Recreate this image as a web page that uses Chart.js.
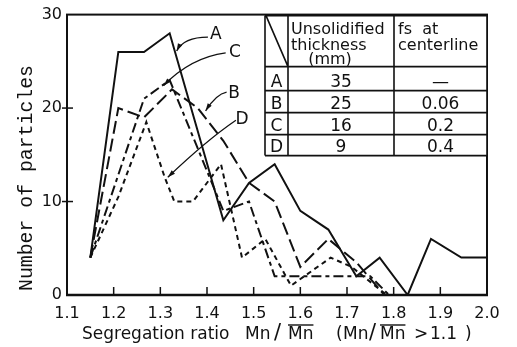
<!DOCTYPE html>
<html>
<head>
<meta charset="utf-8">
<script src="https://cdn.jsdelivr.net/npm/chart.js@4.4.0/dist/chart.umd.min.js"></script>
<style>
  html, body { margin: 0; padding: 0; background: #fff; }
  #wrap { width: 517px; height: 347px; }
</style>
</head>
<body>
<div id="wrap"><canvas id="chart" width="517" height="347"></canvas></div>
<script>
// tick labels
const xTicks = [1.1, 1.2, 1.3, 1.4, 1.5, 1.6, 1.7, 1.8, 1.9, 2.0];
const yTicks = [0, 10, 20, 30];

// segregation ratio (x) and number of particles (y)
const xA = [1.15, 1.21, 1.265, 1.32, 1.435, 1.49, 1.545, 1.6, 1.66, 1.72, 1.77, 1.83, 1.88, 1.945, 2.0];
const yA = [4, 26, 26, 28, 8, 12, 14, 9, 7, 2, 4, 0, 6, 4, 4];

const xB = [1.15, 1.21, 1.265, 1.325, 1.38, 1.435, 1.49, 1.545, 1.6, 1.66, 1.72, 1.78];
const yB = [4, 20, 19, 22, 20, 16.5, 12, 10, 3, 6, 3.5, 0];

const xC = [1.15, 1.265, 1.32, 1.435, 1.49, 1.545, 1.75, 1.79];
const yC = [4, 21, 23, 9, 10, 2, 2, 0];

const xD = [1.15, 1.21, 1.27, 1.31, 1.33, 1.37, 1.43, 1.475, 1.525, 1.58, 1.665, 1.71, 1.785];
const yD = [4, 10.5, 18.5, 12.5, 10, 10, 14, 4, 6, 1, 4, 3, 0];

// table in the corner
const tableHead = [["Unsolidified", "thickness", "(mm)"], ["fs  at", "centerline"]];
const tableRows = [
    ["A", "35", "\u2014"],
    ["B", "25", "0.06"],
    ["C", "16", "0.2"],
    ["D", "9", "0.4"]
];

const FONT = '"DejaVu Sans", sans-serif';
const INK = "#111";

function series(label, xs, ys, dash) {
    return {
        label: label,
        data: xs.map((x, i) => ({ x: x, y: ys[i] })),
        borderColor: INK,
        borderWidth: 2,
        borderDash: dash,
        pointRadius: 0,
        tension: 0,
        fill: false
    };
}

// curve labels with leader arrows: [label, text pos, leader start, control, tip] in data units
const leaders = [
    ["A", [1.419, 27.85], [1.402, 27.6], [1.35, 27.6], [1.335, 26.1]],
    ["C", [1.46, 25.9], [1.44, 25.9], [1.365, 25.4], [1.307, 22.4]],
    ["B", [1.458, 21.6], [1.442, 21.7], [1.42, 21.5], [1.397, 19.7]],
    ["D", [1.475, 18.8], [1.462, 18.7], [1.40, 16.6], [1.316, 12.6]]
];

const decor = {
    id: "decor",
    afterDraw(chart) {
        const ctx = chart.ctx;
        const a = chart.chartArea;
        const sx = chart.scales.x, sy = chart.scales.y;
        ctx.save();
        ctx.strokeStyle = INK;
        ctx.fillStyle = INK;

        // frame
        ctx.lineWidth = 2;
        ctx.strokeRect(a.left, a.top, a.right - a.left, a.bottom - a.top);
        ctx.lineWidth = 2.5;
        ctx.beginPath();
        ctx.moveTo(a.left - 1, a.bottom);
        ctx.lineTo(a.right + 1, a.bottom);
        ctx.stroke();

        // tick marks
        ctx.lineWidth = 1.5;
        xTicks.slice(1, -1).forEach(v => {
            const px = sx.getPixelForValue(v);
            ctx.beginPath();
            ctx.moveTo(px, a.bottom);
            ctx.lineTo(px, a.bottom - 8);
            ctx.stroke();
        });
        yTicks.slice(1, -1).forEach(v => {
            const py = sy.getPixelForValue(v);
            ctx.beginPath();
            ctx.moveTo(a.left - 5, py);
            ctx.lineTo(a.left + 6, py);
            ctx.stroke();
        });

        // table
        const cols = [a.right - 222, a.right - 199, a.right - 93, a.right];
        const rows = [a.top + 1, a.top + 52, a.top + 76, a.top + 98, a.top + 120, a.top + 141];
        ctx.fillStyle = "#fff";
        ctx.fillRect(cols[0], rows[0], cols[3] - cols[0], rows[5] - rows[0]);
        ctx.fillStyle = INK;
        ctx.lineWidth = 1.6;
        ctx.beginPath();
        rows.forEach(y => { ctx.moveTo(cols[0], y); ctx.lineTo(cols[3], y); });
        cols.forEach(x => { ctx.moveTo(x, rows[0]); ctx.lineTo(x, rows[5]); });
        ctx.moveTo(cols[0] + 1, rows[0]);
        ctx.lineTo(cols[1], rows[1]);
        ctx.stroke();

        ctx.font = "16px " + FONT;
        ctx.textAlign = "left";
        ctx.textBaseline = "alphabetic";
        ctx.fillText(tableHead[0][0], cols[1] + 3, rows[0] + 18);
        ctx.fillText(tableHead[0][1], cols[1] + 3, rows[0] + 34);
        ctx.textAlign = "center";
        ctx.fillText(tableHead[0][2], cols[1] + 42, rows[0] + 48);
        ctx.textAlign = "left";
        ctx.fillText(tableHead[1][0], cols[2] + 4, rows[0] + 18);
        ctx.fillText(tableHead[1][1], cols[2] + 4, rows[0] + 34);

        ctx.font = "17px " + FONT;
        tableRows.forEach((r, i) => {
            const base = rows[i + 2] - 4;
            ctx.textAlign = "center";
            ctx.fillText(r[0], (cols[0] + cols[1]) / 2, base);
            ctx.fillText(r[1], (cols[1] + cols[2]) / 2, base);
            ctx.fillText(r[2], (cols[2] + cols[3]) / 2, base);
        });

        // curve labels and leader arrows
        ctx.font = "17px " + FONT;
        ctx.textAlign = "center";
        ctx.textBaseline = "middle";
        ctx.lineWidth = 1.3;
        const P = p => [sx.getPixelForValue(p[0]), sy.getPixelForValue(p[1])];
        leaders.forEach(l => {
            const t = P(l[1]), s = P(l[2]), c = P(l[3]), e = P(l[4]);
            ctx.fillText(l[0], t[0], t[1]);
            ctx.beginPath();
            ctx.moveTo(s[0], s[1]);
            ctx.quadraticCurveTo(c[0], c[1], e[0], e[1]);
            ctx.stroke();
            const ang = Math.atan2(e[1] - c[1], e[0] - c[0]);
            ctx.beginPath();
            ctx.moveTo(e[0], e[1]);
            ctx.lineTo(e[0] - 8 * Math.cos(ang - 0.3), e[1] - 8 * Math.sin(ang - 0.3));
            ctx.lineTo(e[0] - 8 * Math.cos(ang + 0.3), e[1] - 8 * Math.sin(ang + 0.3));
            ctx.closePath();
            ctx.fill();
        });

        // y title, stretched to the span it has in the figure
        ctx.save();
        ctx.translate(27, 178);
        ctx.rotate(-Math.PI / 2);
        ctx.font = '20px "Liberation Mono", monospace';
        const yw = ctx.measureText("Number of particles").width;
        ctx.scale(226 / yw, 1);
        ctx.textAlign = "center";
        ctx.textBaseline = "middle";
        ctx.fillText("Number of particles", 0, 0);
        ctx.restore();

        // x title with overlined mean
        const pieces = [
            ["Segregation ratio", 82, false, 17],
            ["Mn", 245, false, 17],
            ["/", 274, false, 21],
            ["Mn", 288, true, 17],
            ["(", 336, false, 17],
            ["Mn", 343, false, 17],
            ["/", 369, false, 21],
            ["Mn", 380, true, 17],
            [">", 414, false, 17],
            ["1.1", 430, false, 17],
            [")", 465, false, 17]
        ];
        const base = 339;
        ctx.textAlign = "left";
        ctx.textBaseline = "alphabetic";
        ctx.lineWidth = 1.4;
        pieces.forEach(p => {
            ctx.font = p[3] + "px " + FONT;
            const w = ctx.measureText(p[0]).width;
            ctx.fillText(p[0], p[1], base);
            if (p[2]) {
                ctx.beginPath();
                ctx.moveTo(p[1], base - 14);
                ctx.lineTo(p[1] + w, base - 14);
                ctx.stroke();
            }
        });

        ctx.restore();
    }
};

new Chart(document.getElementById("chart"), {
    type: "line",
    data: {
        datasets: [
            series("A", xA, yA, []),
            series("B", xB, yB, [13, 5]),
            series("C", xC, yC, [10, 4, 4, 4]),
            series("D", xD, yD, [5, 4])
        ]
    },
    options: {
        responsive: false,
        animation: false,
        layout: { padding: { top: 14, right: 30, left: 0, bottom: 0 } },
        plugins: { legend: { display: false }, tooltip: { enabled: false } },
        scales: {
            x: {
                type: "linear",
                min: 1.1,
                max: 2.0,
                afterBuildTicks: s => { s.ticks = xTicks.map(v => ({ value: v })); },
                afterFit: s => { s.height = 52; },
                grid: { display: false, drawTicks: false },
                border: { display: false },
                ticks: {
                    callback: v => v.toFixed(1),
                    font: { family: FONT, size: 16 },
                    color: INK,
                    padding: 9,
                    maxRotation: 0,
                    autoSkip: false
                }
            },
            y: {
                min: 0,
                max: 30,
                afterBuildTicks: s => { s.ticks = yTicks.map(v => ({ value: v })); },
                afterFit: s => { s.width = 67; },
                grid: { display: false, drawTicks: false },
                border: { display: false },
                ticks: {
                    callback: v => String(v),
                    font: { family: FONT, size: 16 },
                    color: INK,
                    padding: 5
                }
            }
        }
    },
    plugins: [decor]
});
</script>
</body>
</html>
